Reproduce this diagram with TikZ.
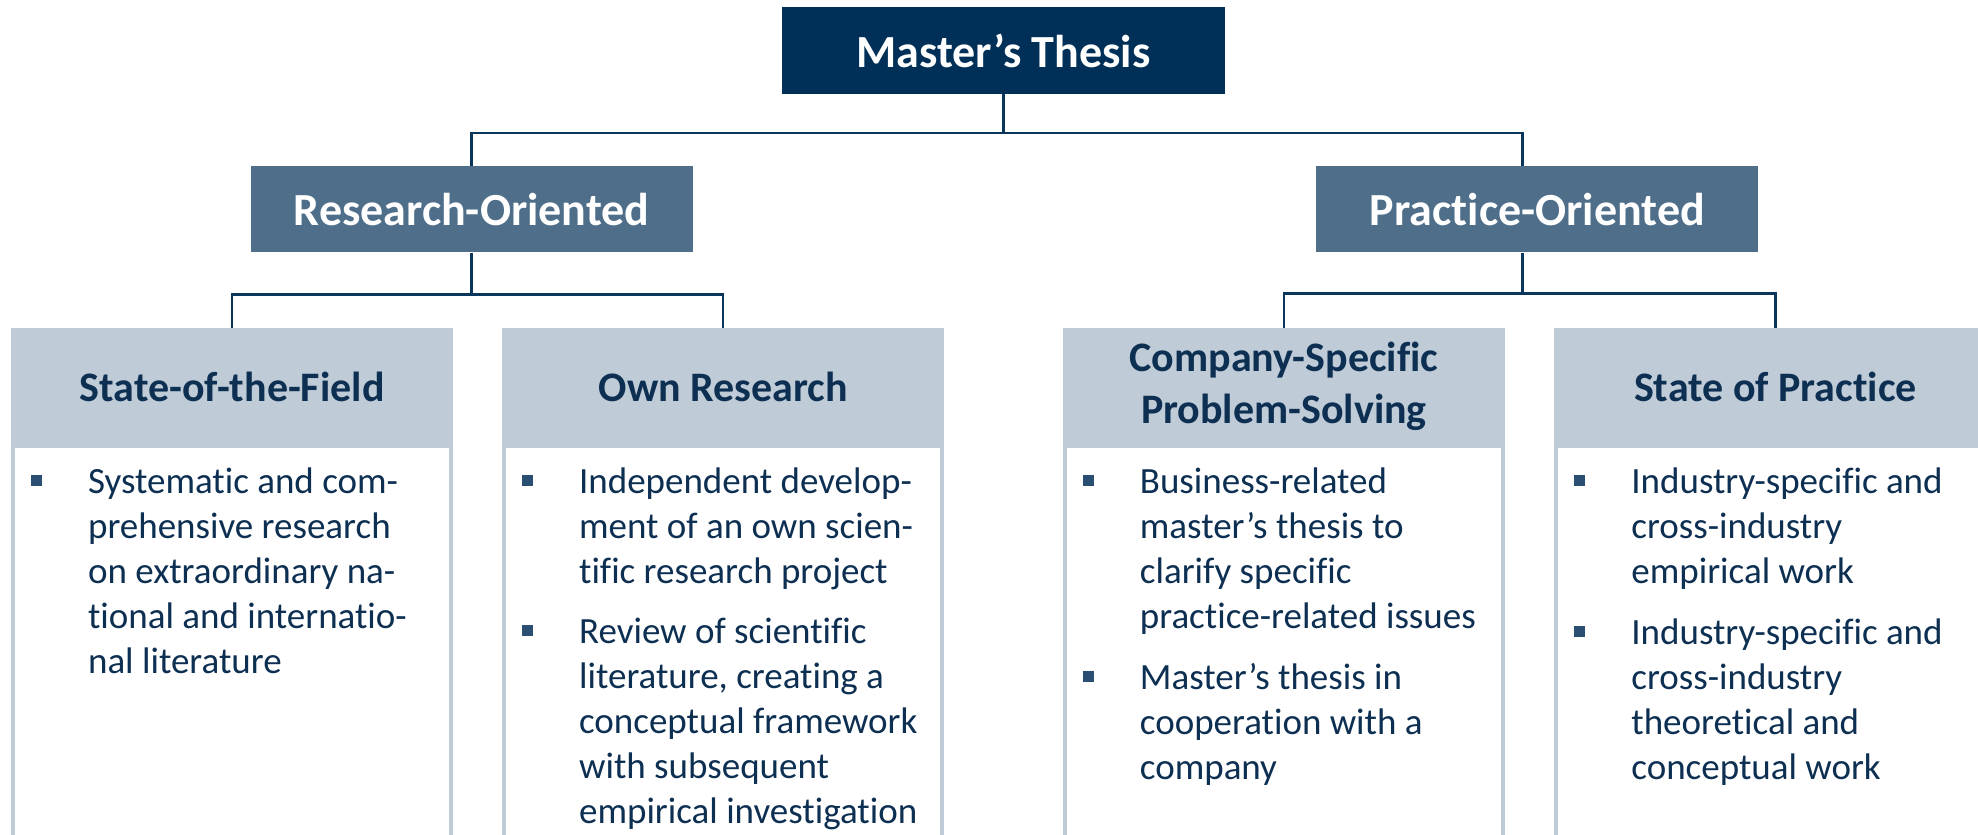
\documentclass[tikz,border=0pt]{standalone}
\usepackage{fontspec}
\setmainfont{Carlito}[Ligatures={TeX,NoCommon}]
\usepackage{tikz}
\usetikzlibrary{positioning}
\definecolor{navy}{HTML}{003057}
\definecolor{slate}{HTML}{4E6E8A}
\definecolor{pale}{HTML}{BFCBD6}
\definecolor{ink}{HTML}{0D2F52}
\definecolor{linec}{HTML}{0B365C}
\definecolor{bulletc}{HTML}{2B4E73}
\tikzstyle{topblock} = [rectangle, fill=navy, text=white, inner sep=0pt,
                font=\bfseries\fontsize{46}{55}\selectfont, minimum width=443pt, minimum height=87pt]
\tikzstyle{midblock} = [rectangle, fill=slate, text=white, inner sep=0pt,
                font=\bfseries\fontsize{46}{55}\selectfont, minimum width=442pt, minimum height=86pt]
\tikzstyle{head} = [rectangle, fill=pale, text=ink, inner sep=0pt, align=center,
                font=\bfseries\fontsize{42}{52}\selectfont, minimum width=442pt, minimum height=118pt]
\tikzstyle{body} = [draw=pale, line width=4pt, fill=white]
\tikzstyle{items} = [anchor=base west, text=ink, inner sep=0pt, font=\fontsize{37}{45}\selectfont]
\tikzstyle{line} = [draw=linec, line width=2.5pt]
\newcommand{\sq}{\textcolor{bulletc}{\rule[8pt]{11pt}{11pt}}}

\begin{document}
\begin{tikzpicture}[x=1pt,y=1pt]
        \useasboundingbox (0,0) rectangle (1978,835);
        \clip (0,0) rectangle (1978,835);
        \node[topblock](master) at (1003.5,784.5){Master’s Thesis};
        \node[midblock, below left=72pt and 89pt of master](research){Research-Oriented};
        \node[midblock, below right=72pt and 91pt of master](practice){Practice-Oriented};
        \node[head, below=75pt of research, xshift=-239.5pt](field){State-of-the-Field};
        \node[head, below=75pt of research, xshift=251.5pt](ownres){Own Research};
        \node[head, below=75pt of practice, xshift=-253.5pt](company){Company-Specific\\Problem-Solving};
        \node[head, below=75pt of practice, xshift=238pt](stateprac){State of Practice};
        % white bodies under the headers
        \draw[body] ([xshift=2pt]field.south west) rectangle ([xshift=-2pt,yshift=-430pt]field.south east);
        \draw[body] ([xshift=2pt]ownres.south west) rectangle ([xshift=-2pt,yshift=-430pt]ownres.south east);
        \draw[body] ([xshift=2pt]company.south west) rectangle ([xshift=-2pt,yshift=-430pt]company.south east);
        \draw[body] ([xshift=2pt]stateprac.south west) rectangle ([xshift=-2pt,yshift=-430pt]stateprac.south east);
        \node[items](fieldlist) at ([xshift=20pt,yshift=-48pt]field.south west){%
            \begin{tabular}[t]{@{}l@{\hspace{46pt}}l@{}}
            \sq & Systematic and com-\\
                & prehensive research\\
                & on extraordinary na-\\
                & tional and internatio-\\
                & nal literature
            \end{tabular}};
        \node[items](ownlist) at ([xshift=20pt,yshift=-48pt]ownres.south west){%
            \begin{tabular}[t]{@{}l@{\hspace{46pt}}l@{}}
            \sq & Independent develop-\\
                & ment of an own scien-\\
                & tific research project\\[15pt]
            \sq & Review of scientific\\
                & literature, creating a\\
                & conceptual framework\\
                & with subsequent\\
                & empirical investigation
            \end{tabular}};
        \node[items](companylist) at ([xshift=20pt,yshift=-48pt]company.south west){%
            \begin{tabular}[t]{@{}l@{\hspace{46pt}}l@{}}
            \sq & Business-related\\
                & master’s thesis to\\
                & clarify specific\\
                & practice-related issues\\[16pt]
            \sq & Master’s thesis in\\
                & cooperation with a\\
                & company
            \end{tabular}};
        \node[items](praclist) at ([xshift=20pt,yshift=-48pt]stateprac.south west){%
            \begin{tabular}[t]{@{}l@{\hspace{46pt}}l@{}}
            \sq & Industry-specific and\\
                & cross-industry\\
                & empirical work\\[16pt]
            \sq & Industry-specific and\\
                & cross-industry\\
                & theoretical and\\
                & conceptual work
            \end{tabular}};
        % connectors
        \coordinate (j1) at ([yshift=-39pt]master.south);
        \coordinate (j2) at ([yshift=-42pt]research.south);
        \coordinate (j3) at ([xshift=-15pt,yshift=-41pt]practice.south);
        \path[line] (master.south) -- (j1);
        \path[line] (research.north) |- (j1) -| ([xshift=-15pt]practice.north);
        \path[line] (research.south) -- (j2);
        \path[line] (field.north) |- (j2) -| (ownres.north);
        \path[line] ([xshift=-15pt]practice.south) -- (j3);
        \path[line] (company.north) |- (j3) -| (stateprac.north);
\end{tikzpicture}
\end{document}
